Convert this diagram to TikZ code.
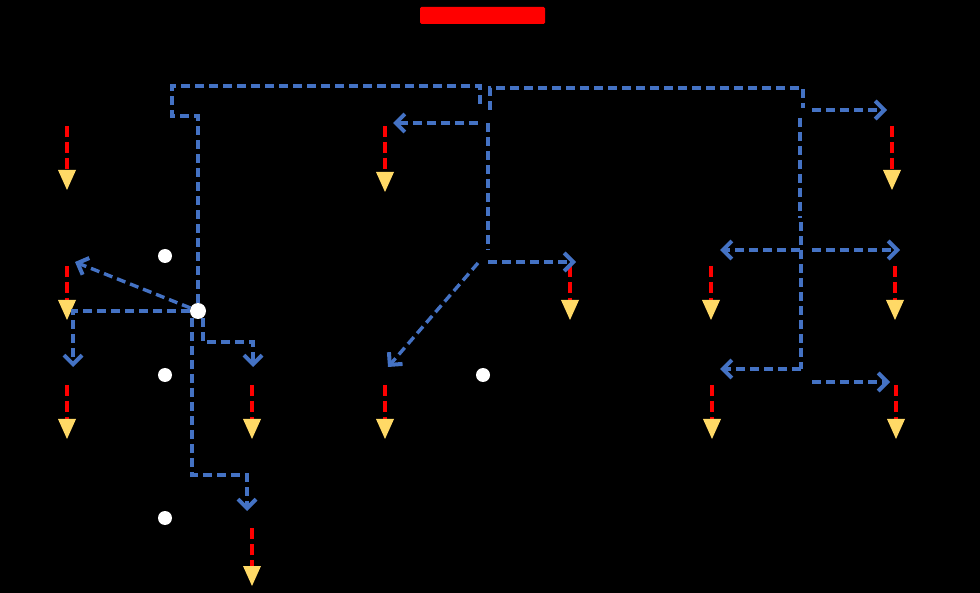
\documentclass[tikz,border=0pt]{standalone}
\usetikzlibrary{arrows.meta}
\definecolor{flowblue}{HTML}{4472C4}
\definecolor{dropyellow}{HTML}{FFD966}
\tikzset{
  flow/.style={draw=flowblue, line width=3.4pt, dash pattern=on 9pt off 5pt},
  flowarr/.style={flow, -{Straight Barb[length=9pt,width=18pt,line width=4pt]}},
  stem/.style={draw=red, line width=3.6pt, dash pattern=on 11pt off 5pt},
  drop/.style={fill=dropyellow},
  dot/.style={circle, fill=white, inner sep=0pt, minimum size=14pt},
}
\begin{document}
\begin{tikzpicture}[x=1pt, y=-1pt]
  \fill[black] (0,0) rectangle (980,593);
  \useasboundingbox (0,0) rectangle (980,593);
  % title bar
  \fill[red, rounded corners=1.5pt] (420,7) rectangle (545,24);
  % drops: x / top of triangle / top of stem
  \foreach \x/\y/\s [count=\i] in {67/170/126, 385/172/126, 892/170/126,
      67/300/266, 570/300/266, 711/300/266, 895/300/266,
      67/419/385, 252/419/385, 385/419/385, 712/419/385, 896/419/385,
      252/566/528} {
    \coordinate (s\i) at (\x,\s);
    \coordinate (t\i) at (\x,\y);
    \draw[stem] (s\i) -- (t\i);
    \fill[drop] (\x-9,\y) -- (\x+9,\y) -- (\x,\y+20) -- cycle;
  }
  % white markers
  \node[dot] (m1) at (165,256) {};
  \node[dot] (m2) at (165,375) {};
  \node[dot] (m3) at (165,518) {};
  \node[dot] (m4) at (483,375) {};
  \node[dot, minimum size=16pt] (jn) at (198,311) {};
  % left tree
  \draw[flow] (jn.north) -- (198,116) -- (172,116) -- (172,86) -- (480,86) -- (480,108);
  \draw[flowarr] (jn) -- (75,262);
  \draw[flowarr] (jn.west) -- (73,311) -- (73,367);
  \draw[flowarr] (203,318) -- (203,342) -- (253,342) -- (253,367);
  \draw[flowarr] (192,318) -- (192,475) -- (247,475) -- (247,511);
  % middle
  \draw[flowarr] (478,123) -- (393,123);
  \draw[flow] (488,123) -- (488,250);
  \draw[flowarr] (488,262) -- (576,262);
  \draw[flowarr] (478,263) -- (388,367);
  % right tree
  \draw[flow] (490,110) -- (490,88) -- (803,88) -- (803,108);
  \draw[flowarr] (812,110) -- (887,110);
  \draw[flow] (800,118) -- (800,218);
  \draw[flow] (801,222) -- (801,369);
  \draw[flowarr] (800,250) -- (720,250);
  \draw[flowarr] (812,250) -- (900,250);
  \draw[flowarr] (801,369) -- (720,369);
  \draw[flowarr] (812,382) -- (890,382);
\end{tikzpicture}
\end{document}
